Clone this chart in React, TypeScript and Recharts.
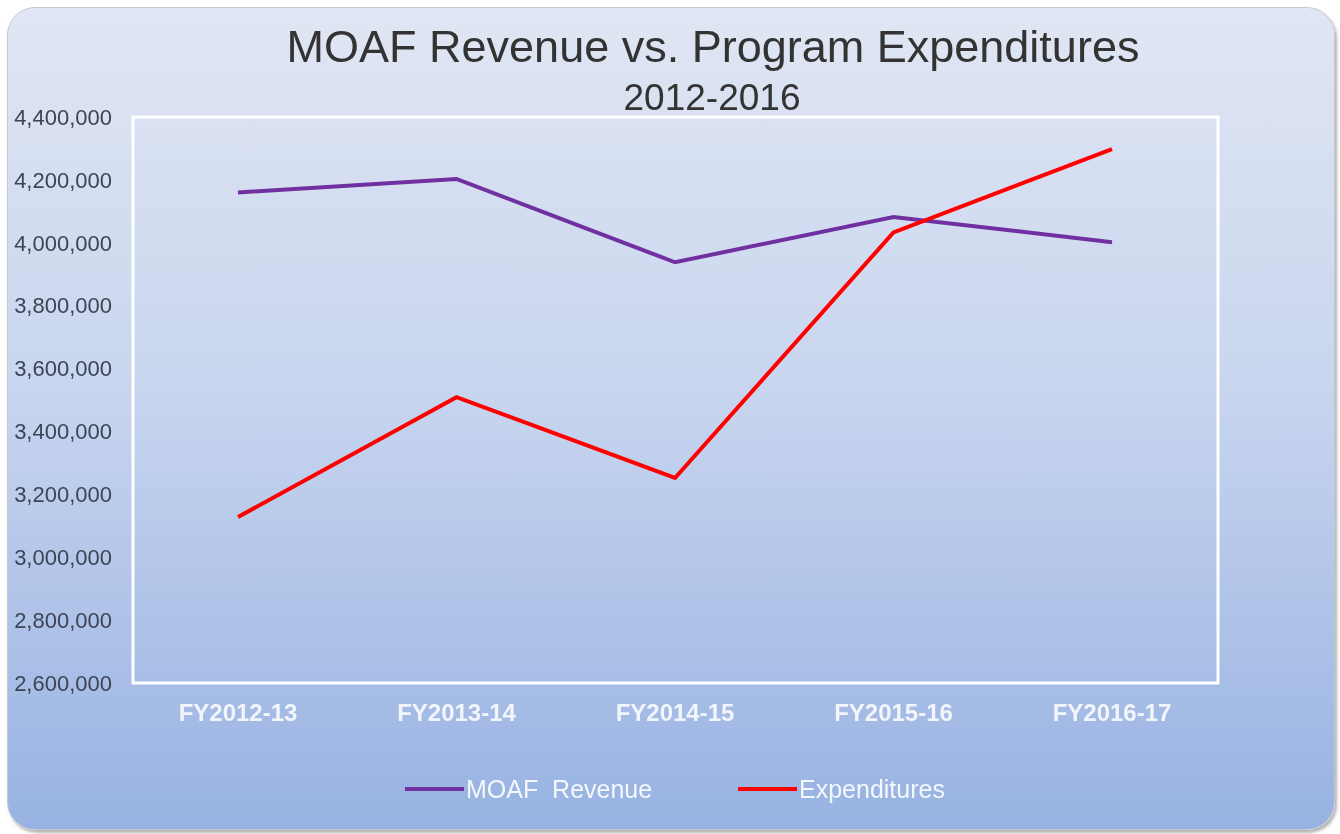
import { Legend, Line, LineChart, ReferenceArea, XAxis, YAxis } from "recharts"

const years = ["FY2012-13", "FY2013-14", "FY2014-15", "FY2015-16", "FY2016-17"]
const revenue = [4160000, 4203000, 3938000, 4082000, 4002000]
const expenditures = [3128000, 3509000, 3252000, 4033000, 4298000]
const yTicks = [2600000, 2800000, 3000000, 3200000, 3400000, 3600000, 3800000, 4000000, 4200000, 4400000]

const data = years.map((y, i) => ({ year: y, idx: i, revenue: revenue[i], expenditures: expenditures[i] }))

const font = "'Liberation Sans', Arial, sans-serif"

function LegendBox() {
    const item = (color: string, label: string, w: number) => (
        <div style={{ display: "flex", alignItems: "center", width: w }}>
            <div style={{ width: 59, height: 4, background: color, marginRight: 2 }} />
            <span style={{ whiteSpace: "pre", color: "#f4f7fc", fontSize: 25, fontFamily: font }}>{label}</span>
        </div>
    )
    return (
        <div style={{ height: 60, display: "flex", alignItems: "center", paddingLeft: 405 - 10 }}>
            {item("#7030a0", "MOAF  Revenue", 333)}
            {item("#ff0000", "Expenditures", 230)}
        </div>
    )
}

export default function App() {
    return (
        <div style={{ position: "fixed", top: 0, left: 0, width: 1340, height: 834 }}>
            <div
                style={{
                    position: "absolute",
                    left: 7,
                    top: 7,
                    width: 1326,
                    height: 821,
                    borderRadius: 28,
                    border: "1px solid #c3c8d2",
                    background: "linear-gradient(to bottom, #e0e6f3 0%, #c9d6ef 45%, #97b2e2 100%)",
                    boxShadow: "2px 3px 3px rgba(90,90,90,0.45)",
                }}
            />
            <div style={{ position: "absolute", top: 21, left: 0, width: 1426, textAlign: "center", fontFamily: font, color: "#333", fontSize: 45, lineHeight: "52px" }}>
                MOAF Revenue vs. Program Expenditures
            </div>
            <div style={{ position: "absolute", top: 77, left: 0, width: 1424, textAlign: "center", fontFamily: font, color: "#333", fontSize: 37, lineHeight: "42px" }}>
                2012-2016
            </div>
            <div style={{ position: "absolute", top: 0, left: 0 }}>
                <LineChart width={1340} height={834} data={data} margin={{ top: 117, right: 122, left: 10, bottom: 15 }}>
                    <XAxis xAxisId="frame" dataKey="idx" type="number" domain={[0, "dataMax"]} hide />
                    <ReferenceArea xAxisId="frame" x1={0} x2={data.length - 1} y1={2600000} y2={4400000} fill="none" stroke="#ffffff" strokeWidth={3} ifOverflow="visible" />
                    <XAxis
                        dataKey="year"
                        height={76}
                        axisLine={false}
                        tickLine={false}
                        tickMargin={15}
                        padding={{ left: 105, right: 106 }}
                        tick={{ fill: "#f2f5fb", fontSize: 24, fontWeight: "bold", fontFamily: font }}
                    />
                    <YAxis
                        width={123}
                        domain={[2600000, 4400000]}
                        ticks={yTicks}
                        axisLine={false}
                        tickLine={false}
                        tickMargin={15}
                        tickFormatter={(v: number) => v.toLocaleString("en-US")}
                        tick={{ fill: "#3c4556", fontSize: 22, fontFamily: font }}
                    />
                    <Line dataKey="revenue" name="MOAF  Revenue" stroke="#7030a0" strokeWidth={4} dot={false} isAnimationActive={false} />
                    <Line dataKey="expenditures" name="Expenditures" stroke="#ff0000" strokeWidth={4} dot={false} isAnimationActive={false} />
                    <Legend verticalAlign="bottom" content={() => <LegendBox />} />
                </LineChart>
            </div>
        </div>
    )
}
